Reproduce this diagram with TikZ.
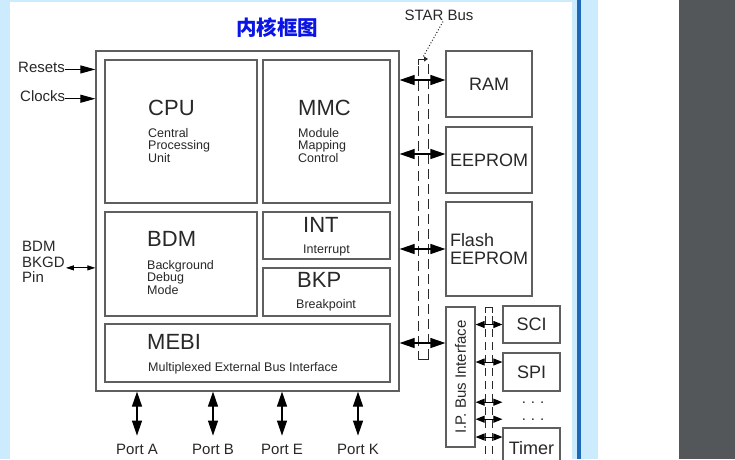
\documentclass[tikz,border=0pt]{standalone}
\usepackage{fontspec}
\setmainfont{Liberation Sans}
\newfontfamily\cjk{Noto Sans CJK SC}
\usetikzlibrary{positioning, arrows.meta}
\definecolor{pageblue}{RGB}{204,235,253}
\definecolor{barblue}{RGB}{30,106,186}
\definecolor{sidegray}{RGB}{83,87,90}
\definecolor{boxgray}{RGB}{95,95,95}
\definecolor{ink}{RGB}{40,40,40}
\tikzset{
  blk/.style={draw=boxgray, line width=1.2pt, inner sep=0pt, text=ink,
    font=\fontsize{18}{18}\selectfont, align=left},
  big/.style={font=\fontsize{22}{24}\selectfont, text=ink, inner sep=0pt, anchor=base west},
  small/.style={font=\fontsize{12.5}{12.5}\selectfont, text=ink, inner sep=0pt,
    anchor=north west, align=left},
  lbl/.style={font=\fontsize{15}{15}\selectfont, text=ink, inner sep=1pt},
  bid/.style={{Triangle[length=15pt,width=10pt]}-{Triangle[length=15pt,width=10pt]},
    line width=1.2pt, draw=black},
  sbid/.style={{Triangle[length=9pt,width=7pt]}-{Triangle[length=9pt,width=7pt]},
    line width=1pt, draw=black},
  busln/.style={draw=ink, line width=1pt, dash pattern=on 10pt off 5pt},
}
% box from two corners (pixel units)
\def\mkbox(#1,#2)(#3,#4)#5#6{\node[blk, minimum width={#3-#1}, minimum height={#4-#2}]
  (#5) at ({(#1+#3)/2},{(#2+#4)/2}) {#6};}

\begin{document}
\begin{tikzpicture}[x=1pt, y=-1pt]
  \clip (0,0) rectangle (735,459);
  \fill[pageblue] (0,0) rectangle (598,459);
  \fill[white] (10,2) rectangle (572,459);
  \fill[barblue] (577,0) rectangle (581,459);
  \fill[white] (598,0) rectangle (679,459);
  \fill[sidegray] (679,0) rectangle (735,459);

  \node[text={rgb,255:red,10;green,20;blue,230}, font=\cjk\bfseries\fontsize{20.5}{20.5}\selectfont]
    (title) at (277,28) {内核框图};

  % core blocks
  \mkbox(96,51)(399,391){core}{}
  \mkbox(105,60)(257,203){cpu}{}
  \mkbox(263,60)(390,203){mmc}{}
  \mkbox(105,212)(257,316){bdm}{}
  \mkbox(263,212)(390,259){int}{}
  \mkbox(263,268)(390,316){bkp}{}
  \mkbox(105,324)(390,382){mebi}{}

  \node[big] (cpuT) at (148,115) {CPU};
  \node[small] (cpuS) at (148,128) {Central\\Processing\\Unit};
  \node[big] (mmcT) at (298,115) {MMC};
  \node[small] (mmcS) at (298,128) {Module\\Mapping\\Control};
  \node[big] (bdmT) at (147,246) {BDM};
  \node[small] (bdmS) at (147,260) {Background\\Debug\\Mode};
  \node[big] (intT) at (303,232) {INT};
  \node[small] (intS) at (303,245) {Interrupt};
  \node[big] (bkpT) at (297,287) {BKP};
  \node[small] (bkpS) at (296,299) {Breakpoint};
  \node[big] (mebiT) at (147,349) {MEBI};
  \node[small] (mebiS) at (148,362) {Multiplexed External Bus Interface};

  % memories and peripherals
  \mkbox(446,51)(532,117){ram}{RAM}
  \mkbox(446,127)(532,193){eeprom}{EEPROM}
  \mkbox(446,202)(532,296){flash}{Flash\\EEPROM}
  \mkbox(446,307)(475,447){ipb}{}
  \node[lbl, rotate=90] (ipbT) at (ipb) {I.P. Bus Interface};
  \mkbox(503,306)(560,343){sci}{SCI}
  \mkbox(503,353)(560,391){spi}{SPI}
  \mkbox(503,428)(560,468){timer}{Timer}
  \node[lbl, anchor=base] (dta) at (533,403) {.\hspace{5pt}.\hspace{5pt}.};
  \node[lbl, anchor=base] (dtb) at (533,420) {.\hspace{5pt}.\hspace{5pt}.};

  % STAR bus
  \node[lbl] (star) at (439,15) {STAR Bus};
  \coordinate (stp) at (423,57);
  \draw[ink, line width=1pt, dotted] ([xshift=4pt]star.south) -- (stp);
  \draw[ink, line width=1pt, -{Triangle[length=4pt,width=5pt]}] (418,65) |- (428,59);
  \draw[busln] (418,66) -- (418,355);
  \draw[busln] (428,64) -- (428,355);
  \draw[ink, line width=1pt] (418,352) |- (428,359) -- (428,352);

  % I.P. bus
  \draw[ink, line width=1pt] (485,313) |- (492,307) -- (492,313);
  \draw[busln, dash pattern=on 8pt off 5pt] (485,316) -- (485,459);
  \draw[busln, dash pattern=on 8pt off 5pt] (492,316) -- (492,459);

  \draw[bid] ([yshift=4pt]core.east |- ram.west) -- ([yshift=4pt]ram.west);
  \draw[bid] ([yshift=6pt]core.east |- eeprom.west) -- ([yshift=6pt]eeprom.west);
  \draw[bid] (core.east |- flash.west) -- (flash.west);
  \draw[bid] ([yshift=10pt]core.east |- mebi.east) -- ([yshift=10pt]ipb.west |- mebi.east);

  \draw[sbid] (ipb.east |- sci.west) -- (sci.west);
  \draw[sbid] ([yshift=10pt]ipb.east |- spi.west) -- ([yshift=10pt]spi.west);
  \draw[sbid] (ipb.east |- dta) -- (sci.west |- dta);
  \draw[sbid] (ipb.east |- dtb) -- (sci.west |- dtb);
  \draw[sbid] ([yshift=11pt]ipb.east |- timer.west) -- ([yshift=11pt]timer.west);

  % left side signals
  \node[lbl, anchor=west, inner sep=0pt] (rst) at (18,67) {Resets};
  \node[lbl, anchor=west, inner sep=0pt] (clk) at (20,96) {Clocks};
  \draw[line width=1pt, -{Triangle[length=15pt,width=8pt]}] (rst.mid east) -- (rst.mid east -| core.west);
  \draw[line width=1pt, -{Triangle[length=15pt,width=8pt]}] (clk.mid east) -- (clk.mid east -| core.west);
  \node[lbl, anchor=north west, inner sep=0pt, align=left, font=\fontsize{15}{15.5}\selectfont]
    (pin) at (22,241) {BDM\\BKGD\\Pin};
  \coordinate (pinx) at ([yshift=-6pt,xshift=1pt]pin.east);
  \draw[sbid, {Triangle[length=8pt,width=5pt]}-{Triangle[length=8pt,width=5pt]}] (pinx) -- (pinx -| core.west);

  % ports
  \foreach \nm/\xx/\txt in {pa/137/Port A, pb/213/Port B, pe/282/Port E, pk/358/Port K}{
    \node[lbl] (\nm) at (\xx,449) {\txt};
    \draw[bid] (core.south -| \nm) -- ([yshift=7pt]\nm.north);
  }
\end{tikzpicture}
\end{document}
